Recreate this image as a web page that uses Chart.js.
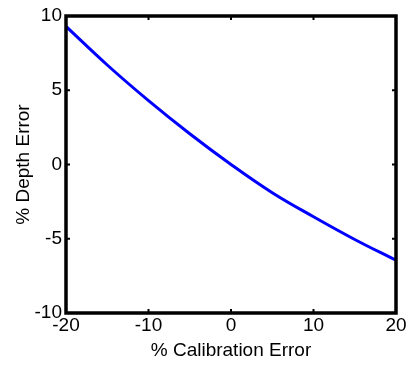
<!DOCTYPE html>
<html>
<head>
<meta charset="utf-8">
<script src="https://cdn.jsdelivr.net/npm/chart.js@4"></script>
<style>
    html, body { margin: 0; padding: 0; background: #ffffff; }
    #wrap { width: 407px; height: 367px; }
</style>
</head>
<body>
<div id="wrap"><canvas id="depthChart"></canvas></div>
<script>
// Values
const calibrationError = [-20, -15, -10, -5, 0, 5, 10, 15, 20];
const depthError = [9.3, 6.7, 4.3, 2.07, 0, -1.9, -3.52, -5.05, -6.45];
const xTicks = [-20, -10, 0, 10, 20];
const yTicks = [-10, -5, 0, 5, 10];

const FONT = "'Liberation Sans', Arial, sans-serif";

// Black box round the plot plus small inward tick marks (matlab style)
const framePlugin = {
    id: 'frame',
    afterDatasetsDraw(chart) {
        const { ctx, chartArea: a, scales } = chart;
        const len = 4;
        ctx.save();
        ctx.strokeStyle = '#000000';
        ctx.lineWidth = 2;
        ctx.beginPath();
        xTicks.slice(1, -1).forEach(v => {
            const px = scales.x.getPixelForValue(v);
            ctx.moveTo(px, a.bottom); ctx.lineTo(px, a.bottom - len);
            ctx.moveTo(px, a.top); ctx.lineTo(px, a.top + len);
        });
        yTicks.slice(1, -1).forEach(v => {
            const py = scales.y.getPixelForValue(v);
            ctx.moveTo(a.left, py); ctx.lineTo(a.left + len, py);
            ctx.moveTo(a.right, py); ctx.lineTo(a.right - len, py);
        });
        ctx.stroke();
        ctx.lineWidth = 3.5;
        ctx.strokeRect(a.left, a.top, a.right - a.left, a.bottom - a.top);
        ctx.restore();
    }
};

new Chart(document.getElementById('depthChart'), {
    type: 'line',
    data: {
        datasets: [{
            data: calibrationError.map((c, i) => ({ x: c, y: depthError[i] })),
            borderColor: '#0000ff',
            borderWidth: 3,
            pointRadius: 0,
            tension: 0.4,
            fill: false
        }]
    },
    options: {
        responsive: true,
        maintainAspectRatio: false,
        animation: false,
        events: [],
        layout: { padding: { top: 16, right: 11, bottom: 0, left: 0 } },
        plugins: { legend: { display: false }, tooltip: { enabled: false } },
        scales: {
            x: {
                type: 'linear',
                min: -20,
                max: 20,
                afterBuildTicks: (s) => { s.ticks = xTicks.map(v => ({ value: v })); },
                afterFit: (s) => { s.height = 54; s.paddingLeft = 0; s.paddingRight = 0; },
                grid: { display: false, drawTicks: false },
                border: { display: false },
                ticks: {
                    color: '#000000',
                    padding: 1,
                    maxRotation: 0,
                    autoSkip: false,
                    font: { family: FONT, size: 19 }
                },
                title: {
                    display: true,
                    text: '% Calibration Error',
                    color: '#000000',
                    padding: { top: 0, bottom: 5 },
                    font: { family: FONT, size: 19 }
                }
            },
            y: {
                type: 'linear',
                min: -10,
                max: 10,
                afterBuildTicks: (s) => { s.ticks = yTicks.map(v => ({ value: v })); },
                afterFit: (s) => { s.width = 66; s.paddingTop = 0; s.paddingBottom = 0; },
                grid: { display: false, drawTicks: false },
                border: { display: false },
                ticks: {
                    color: '#000000',
                    padding: 4,
                    autoSkip: false,
                    font: { family: FONT, size: 19 }
                },
                title: {
                    display: true,
                    text: '% Depth Error',
                    color: '#000000',
                    padding: { top: 12, bottom: 0 },
                    font: { family: FONT, size: 19 }
                }
            }
        }
    },
    plugins: [framePlugin]
});
</script>
</body>
</html>
